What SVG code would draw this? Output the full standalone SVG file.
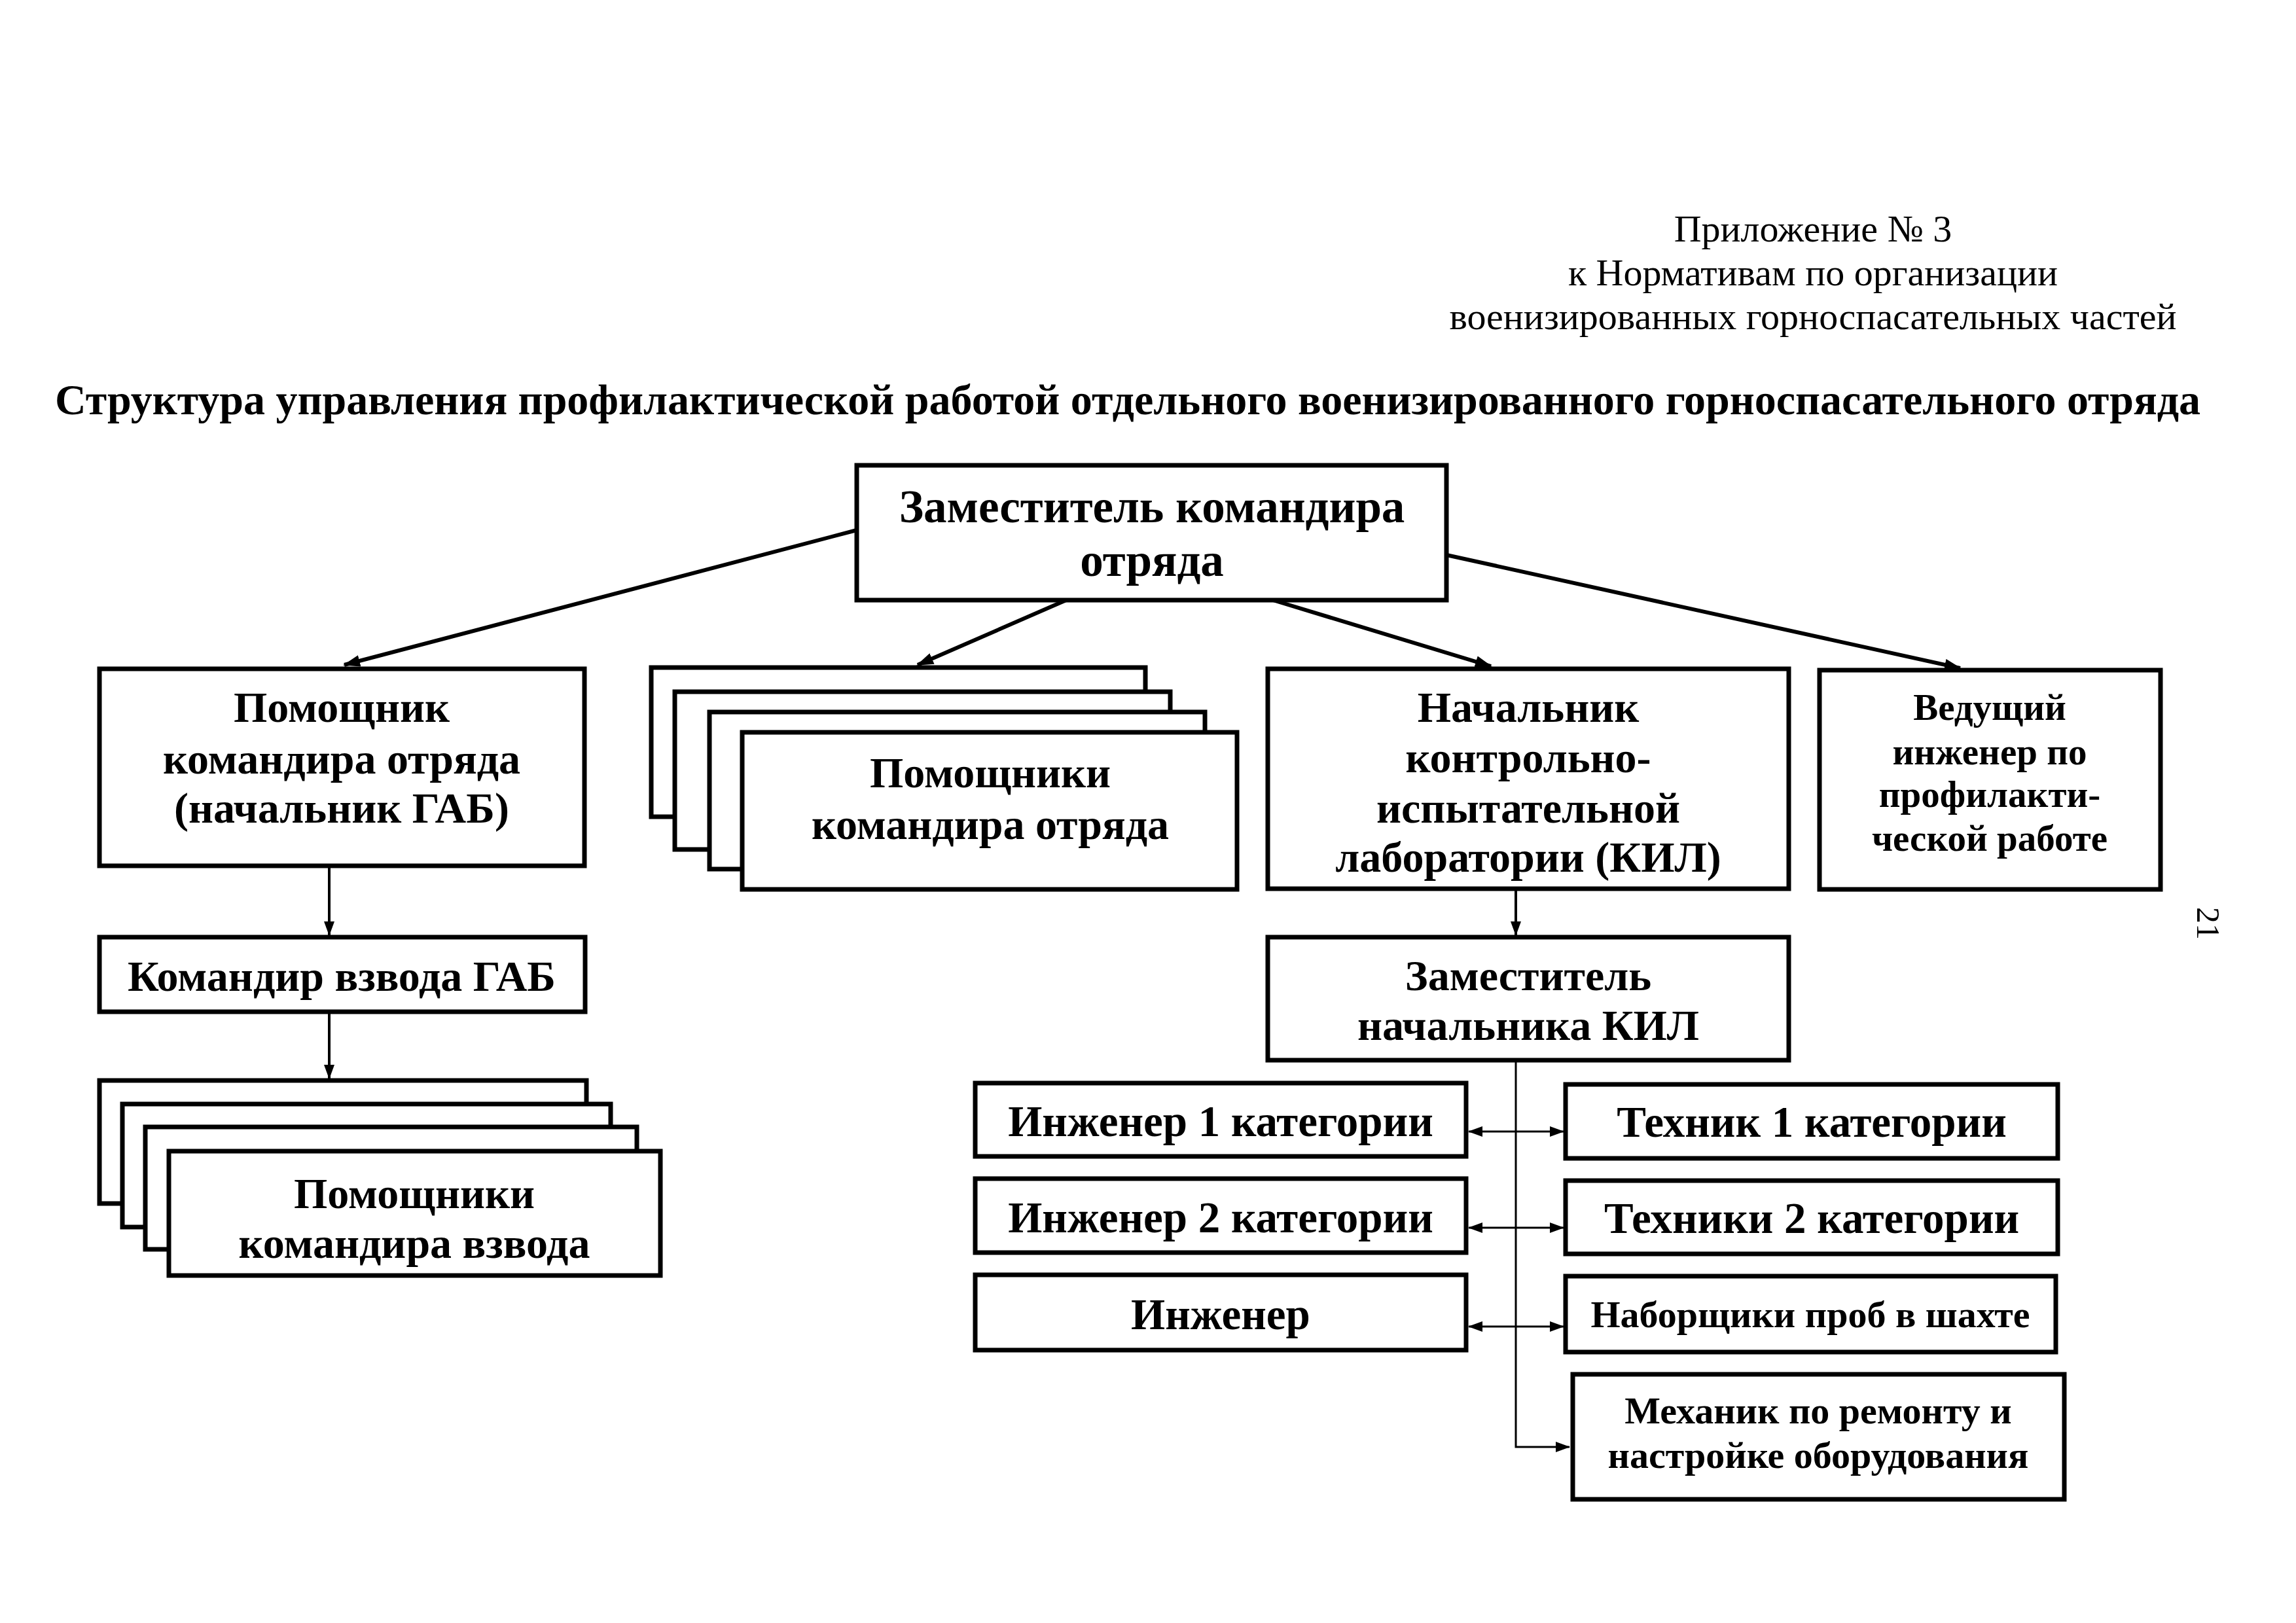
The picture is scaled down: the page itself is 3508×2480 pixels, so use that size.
<svg xmlns="http://www.w3.org/2000/svg" width="3508" height="2480" viewBox="0 0 3508 2480">
<style>
.bg{fill:#fff}
.box{fill:#fff;stroke:#000;stroke-width:7}
.t{font-family:"Liberation Serif","Times New Roman",serif;font-weight:bold;fill:#000;text-anchor:middle}
.hdr{font-family:"Liberation Serif","Times New Roman",serif;fill:#000;text-anchor:middle;font-size:58px}
.thick{stroke:#000;stroke-width:6;fill:none}
.thin{stroke:#000;stroke-width:4;fill:none}
.hair{stroke:#000;stroke-width:3;fill:none}
</style>
<defs>
<marker id="ah" viewBox="0 0 26 18" refX="24" refY="9" markerWidth="26" markerHeight="18" markerUnits="userSpaceOnUse" orient="auto-start-reverse">
<path d="M0,0 L26,9 L0,18 z" fill="#000"/>
</marker>
<marker id="ahs" viewBox="0 0 22 16" refX="21" refY="8" markerWidth="22" markerHeight="16" markerUnits="userSpaceOnUse" orient="auto-start-reverse">
<path d="M0,0 L22,8 L0,16 z" fill="#000"/>
</marker>
</defs>
<rect class="bg" x="0" y="0" width="3508" height="2480"/>

<g id="header">
<text class="hdr" x="2770" y="369">Приложение № 3</text>
<text class="hdr" x="2770" y="436">к Нормативам по организации</text>
<text class="hdr" x="2770" y="503">военизированных горноспасательных частей</text>
</g>
<text id="title" class="t" x="1723" y="633" font-size="66">Структура управления профилактической работой отдельного военизированного горноспасательного отряда</text>
<text id="page" x="0" y="0" transform="translate(3357,1411) rotate(90)" font-family="Liberation Serif, serif" font-size="50" text-anchor="middle">21</text>

<g id="connectors">
<line class="thick" x1="1309" y1="810" x2="526" y2="1016" marker-end="url(#ah)"/>
<line class="thick" x1="1629" y1="917" x2="1402" y2="1016" marker-end="url(#ah)"/>
<line class="thick" x1="1945" y1="917" x2="2278" y2="1018" marker-end="url(#ah)"/>
<line class="thick" x1="2210" y1="848" x2="2995" y2="1021" marker-end="url(#ah)"/>
<line class="thin" x1="503" y1="1323" x2="503" y2="1429" marker-end="url(#ahs)"/>
<line class="thin" x1="503" y1="1547" x2="503" y2="1648" marker-end="url(#ahs)"/>
<line class="thin" x1="2316" y1="1360" x2="2316" y2="1429" marker-end="url(#ahs)"/>
<polyline class="hair" points="2316,1620 2316,2211 2398,2211" marker-end="url(#ahs)"/>
<line class="hair" x1="2244" y1="1729" x2="2389" y2="1729" marker-start="url(#ahs)" marker-end="url(#ahs)"/>
<line class="hair" x1="2244" y1="1876" x2="2389" y2="1876" marker-start="url(#ahs)" marker-end="url(#ahs)"/>
<line class="hair" x1="2244" y1="2027" x2="2389" y2="2027" marker-start="url(#ahs)" marker-end="url(#ahs)"/>
</g>

<g id="n-main">
<rect class="box" x="1309" y="711" width="901" height="206"/>
<text class="t" font-size="71" x="1760" y="798">Заместитель командира</text>
<text class="t" font-size="71" x="1760" y="880">отряда</text>
</g>

<g id="n-pom-gab">
<rect class="box" x="152" y="1022" width="741" height="301"/>
<text class="t" font-size="66" x="522" y="1103">Помощник</text>
<text class="t" font-size="66" x="522" y="1182">командира отряда</text>
<text class="t" font-size="66" x="522" y="1257">(начальник ГАБ)</text>
</g>

<g id="n-pom-otr">
<rect class="box" x="995" y="1020" width="755" height="228"/>
<rect class="box" x="1031" y="1057" width="757" height="241"/>
<rect class="box" x="1084" y="1088" width="757" height="240"/>
<rect class="box" x="1134" y="1119" width="756" height="240"/>
<text class="t" font-size="66" x="1513" y="1203">Помощники</text>
<text class="t" font-size="66" x="1513" y="1282">командира отряда</text>
</g>

<g id="n-kil">
<rect class="box" x="1937" y="1022" width="796" height="336"/>
<text class="t" font-size="66" x="2335" y="1103">Начальник</text>
<text class="t" font-size="66" x="2335" y="1180">контрольно-</text>
<text class="t" font-size="66" x="2335" y="1257">испытательной</text>
<text class="t" font-size="66" x="2335" y="1332">лаборатории (КИЛ)</text>
</g>

<g id="n-ved">
<rect class="box" x="2780" y="1024" width="521" height="335"/>
<text class="t" font-size="57" x="3040" y="1100">Ведущий</text>
<text class="t" font-size="57" x="3040" y="1168">инженер по</text>
<text class="t" font-size="57" x="3040" y="1233">профилакти-</text>
<text class="t" font-size="57" x="3040" y="1300">ческой работе</text>
</g>

<g id="n-kom-vzv">
<rect class="box" x="152" y="1432" width="742" height="114"/>
<text class="t" font-size="66" x="522" y="1514">Командир взвода ГАБ</text>
</g>

<g id="n-pom-vzv">
<rect class="box" x="152" y="1651" width="744" height="188"/>
<rect class="box" x="187" y="1687" width="746" height="188"/>
<rect class="box" x="222" y="1722" width="751" height="187"/>
<rect class="box" x="258" y="1759" width="751" height="190"/>
<text class="t" font-size="66" x="633" y="1846">Помощники</text>
<text class="t" font-size="66" x="633" y="1922">командира взвода</text>
</g>

<g id="n-zam-kil">
<rect class="box" x="1937" y="1432" width="796" height="188"/>
<text class="t" font-size="66" x="2335" y="1513">Заместитель</text>
<text class="t" font-size="66" x="2335" y="1589">начальника КИЛ</text>
</g>

<g id="n-ing1">
<rect class="box" x="1490" y="1655" width="750" height="112"/>
<text class="t" font-size="67" x="1865" y="1736">Инженер 1 категории</text>
</g>
<g id="n-teh1">
<rect class="box" x="2392" y="1657" width="752" height="113"/>
<text class="t" font-size="67" x="2768" y="1737">Техник 1 категории</text>
</g>
<g id="n-ing2">
<rect class="box" x="1490" y="1801" width="750" height="113"/>
<text class="t" font-size="67" x="1865" y="1883">Инженер 2 категории</text>
</g>
<g id="n-teh2">
<rect class="box" x="2392" y="1804" width="752" height="112"/>
<text class="t" font-size="67" x="2768" y="1884">Техники 2 категории</text>
</g>
<g id="n-ing">
<rect class="box" x="1490" y="1948" width="750" height="115"/>
<text class="t" font-size="67" x="1865" y="2031">Инженер</text>
</g>
<g id="n-nab">
<rect class="box" x="2392" y="1950" width="749" height="116"/>
<text class="t" font-size="58" x="2766" y="2028">Наборщики проб в шахте</text>
</g>
<g id="n-meh">
<rect class="box" x="2403" y="2100" width="751" height="191"/>
<text class="t" font-size="58" x="2778" y="2175">Механик по ремонту и</text>
<text class="t" font-size="58" x="2778" y="2243">настройке оборудования</text>
</g>
</svg>
